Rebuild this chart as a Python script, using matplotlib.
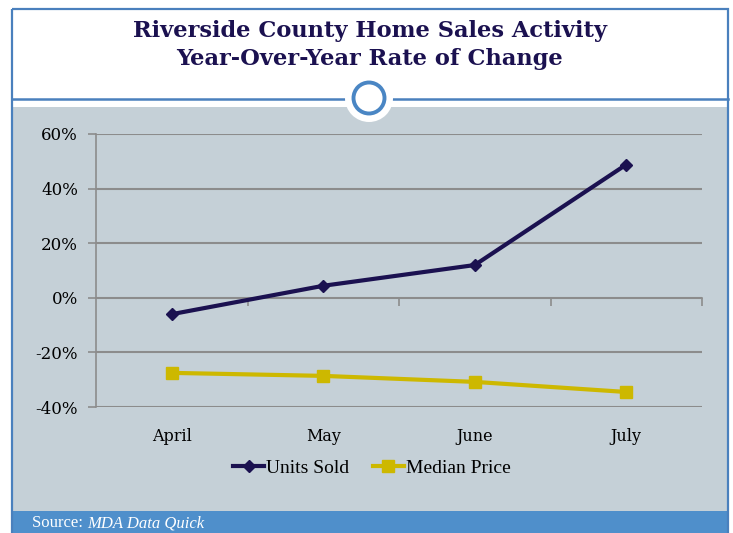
import matplotlib.pyplot as plt
from matplotlib.patches import Rectangle, Circle
from matplotlib.ticker import FuncFormatter
import matplotlib.transforms as mtransforms

# chart data (year-over-year change)
months = ["April", "May", "June", "July"]
units_sold = [-0.06, 0.044, 0.12, 0.488]
median_price = [-0.275, -0.286, -0.308, -0.345]
y_ticks = [-0.4, -0.2, 0.0, 0.2, 0.4, 0.6]

navy = "#1b1150"
gold = "#cdb800"
panel = "#c5d0d7"
frame_blue = "#4a80bd"
footer_blue = "#4f8fcb"
grid_gray = "#8c8c8c"

W, H = 733, 533
fig = plt.figure(figsize=(W / 100, H / 100), dpi=100)
fig.patch.set_facecolor("white")

# background decoration in pixel coordinates
bg = fig.add_axes([0, 0, 1, 1])
bg.set_xlim(0, W)
bg.set_ylim(H, 0)
bg.axis("off")
bg.add_patch(Rectangle((13, 107), 714, 404, facecolor=panel, edgecolor="none"))
bg.add_patch(Rectangle((13, 511), 714, 22, facecolor=footer_blue, edgecolor="none"))
bg.add_patch(Rectangle((12, 9), 716, 530, facecolor="none", edgecolor=frame_blue, lw=1.6))
bg.plot([12, 728], [99, 99], color=frame_blue, lw=1.8)
bg.add_patch(Circle((369, 98), 24, facecolor="white", edgecolor="none", zorder=3))
bg.add_patch(Circle((369, 98), 15.5, facecolor="none", edgecolor="#4a86c4", lw=2.8, zorder=4))

bg.text(370, 37, "Riverside County Home Sales Activity", ha="center", va="baseline",
        fontsize=16.2, fontweight="bold", family="DejaVu Serif", color=navy)
bg.text(370, 65, "Year-Over-Year Rate of Change", ha="center", va="baseline",
        fontsize=16.2, fontweight="bold", family="DejaVu Serif", color=navy)
src = bg.text(32, 523, "Source: ", ha="left", va="center", fontsize=12,
              family="Liberation Serif", color="white")
bg.annotate("MDA Data Quick", xycoords=src, xy=(1, 0.5), va="center", ha="left",
            fontsize=12, family="Liberation Serif", style="italic", color="white")

# main plot area
ax = fig.add_axes([96 / W, (H - 407) / H, (702 - 96) / W, (407 - 134) / H])
ax.patch.set_alpha(0)
x = list(range(len(months)))
ax.plot(x, units_sold, color=navy, lw=3, marker="D", ms=6, label="Units Sold", zorder=4)
ax.plot(x, median_price, color=gold, lw=3, marker="s", ms=8, label="Median Price", zorder=4)

ax.set_xlim(-0.5, len(months) - 0.5)
ax.set_ylim(-0.4, 0.6)
ax.set_yticks(y_ticks)
ax.yaxis.set_major_formatter(FuncFormatter(lambda v, p: "%d%%" % round(v * 100)))
ax.grid(axis="y", color=grid_gray, lw=1.5)
ax.set_axisbelow(True)
for s in ["top", "right"]:
    ax.spines[s].set_visible(False)
ax.spines["left"].set_color(grid_gray)
ax.spines["left"].set_linewidth(1.2)
ax.spines["bottom"].set_position(("data", 0))
ax.spines["bottom"].set_color(grid_gray)
ax.spines["bottom"].set_linewidth(1.2)
ax.set_xticks([i + 0.5 for i in x])
ax.set_xticklabels([])
ax.tick_params(axis="x", length=6, color=grid_gray, width=1.2)
ax.tick_params(axis="y", length=6, color=grid_gray, width=1.2, pad=7)
for lbl in ax.get_yticklabels():
    lbl.set_family("DejaVu Serif")
    lbl.set_fontsize(12)
    lbl.set_color("black")

trans = mtransforms.blended_transform_factory(ax.transData, ax.transAxes)
for i, m in enumerate(months):
    ax.text(i, -0.108, m, transform=trans, ha="center", va="center",
            family="DejaVu Serif", fontsize=11.5, color="black")

ax.legend(loc="center", bbox_to_anchor=(0.455, -0.225), ncol=2, frameon=False,
          prop={"family": "Liberation Serif", "size": 14}, handlelength=1.6,
          handletextpad=0.1, columnspacing=1.2)

fig.savefig("out.png", dpi=100)
